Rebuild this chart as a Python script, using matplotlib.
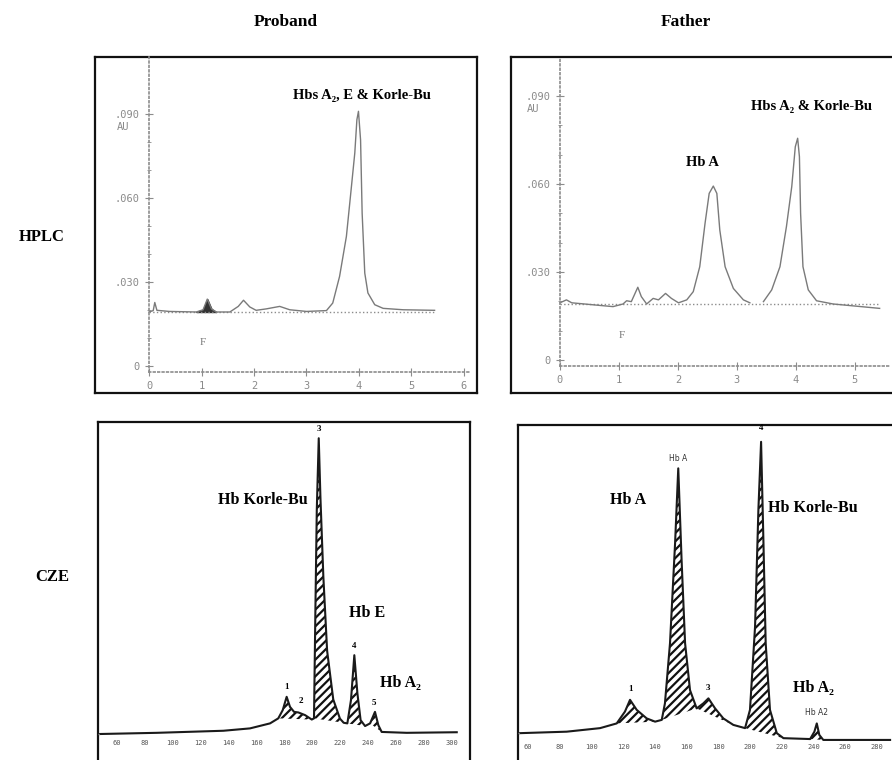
import numpy as np
import matplotlib
matplotlib.use("Agg")
import matplotlib.pyplot as plt

plt.rcParams['hatch.linewidth'] = 1.6
SERIF = ['Liberation Serif', 'DejaVu Serif']
MONO = ['DejaVu Sans Mono']
GRAY = '#8c8c8c'

# ---- HPLC, proband (time in min, absorbance in AU)
hp_p_time = [0.0, 0.08, 0.11, 0.15, 0.39, 0.90, 1.03, 1.11, 1.19, 1.28, 1.54, 1.70, 1.80, 1.92,
             2.04, 2.23, 2.49, 2.68, 3.00, 3.38, 3.50, 3.63, 3.76, 3.85, 3.92, 3.96, 3.99,
             4.03, 4.06, 4.11, 4.17, 4.30, 4.46, 4.84, 5.44]
hp_p_au = [0.0193, 0.0198, 0.0227, 0.0199, 0.0195, 0.0193, 0.0201, 0.0239, 0.0204, 0.0193,
           0.0193, 0.0213, 0.0235, 0.0211, 0.0199, 0.0204, 0.0213, 0.0201, 0.0195, 0.0198,
           0.0225, 0.0320, 0.0463, 0.0630, 0.0761, 0.0880, 0.0910, 0.0808, 0.0546, 0.0332,
           0.0261, 0.0219, 0.0206, 0.0201, 0.0199]
hp_p_base = 0.0193

# ---- HPLC, father
hp_f_time = [0.0, 0.11, 0.20, 0.68, 0.90, 1.07, 1.13, 1.21, 1.32, 1.38, 1.47, 1.58, 1.67, 1.79,
             1.89, 2.01, 2.15, 2.26, 2.37, 2.46, 2.53, 2.60, 2.66, 2.71, 2.80, 2.94, 3.11, 3.22,
             3.33, 3.45, 3.59, 3.73, 3.84, 3.93, 3.99, 4.03, 4.06, 4.08, 4.12, 4.21, 4.35, 4.63,
             5.42]
hp_f_au = [0.0195, 0.0205, 0.0195, 0.0186, 0.0182, 0.0191, 0.0202, 0.0199, 0.0248, 0.0216,
           0.0191, 0.0210, 0.0205, 0.0227, 0.0210, 0.0195, 0.0205, 0.0233, 0.0318, 0.0466,
           0.0568, 0.0593, 0.0568, 0.0443, 0.0318, 0.0244, 0.0205, 0.0195, np.nan, 0.0199,
           0.0239, 0.0318, 0.0455, 0.0591, 0.0727, 0.0756, 0.0693, 0.0500, 0.0318, 0.0239,
           0.0202, 0.0191, 0.0176]
hp_f_base = 0.0190

# ---- CZE, proband (zone position, relative absorbance)
cz_p_pos = [47.8, 88.5, 136.2, 155.3, 169.7, 175.6, 178.8, 181.6, 184.0, 186.9, 190.0, 194.8,
            199.6, 201.2, 202.2, 203.2, 204.6, 205.8, 207.9, 210.6, 215.0, 219.8, 222.5, 225.1,
            227.7, 230.1, 232.3, 234.6, 237.8, 241.4, 244.9, 247.3, 249.7, 267.6, 303.5]
cz_p_abs = [-0.2, 0.2, 0.9, 1.7, 3.4, 5.1, 7.9, 12.4, 9.0, 7.3, 7.1, 6.2, 4.7, 5.1, 41.8, 75.7,
            100.0, 80.0, 53.1, 28.0, 11.5, 5.0, 3.6, 3.4, 11.3, 26.5, 13.6, 4.5, 2.5, 3.4, 7.3,
            2.8, 0.5, 0.2, 0.4]
cz_p_hatch = [(175.6, 199.6), (201.2, 222.5), (225.1, 237.8), (241.4, 249.7)]
cz_p_ticks = [60, 80, 100, 120, 140, 160, 180, 200, 220, 240, 260, 280, 300]

# ---- CZE, father
cz_f_pos = [55.0, 84.4, 105.4, 115.9, 121.1, 124.3, 128.5, 134.8, 140.1, 144.3, 146.3, 149.5,
            152.7, 154.7, 156.8, 159.0, 162.1, 166.3, 170.5, 173.7, 177.9, 183.1, 189.4, 196.8,
            199.9, 203.1, 205.2, 206.9, 208.4, 209.8, 212.5, 216.8, 221.0, 237.8, 240.5, 242.0,
            243.6, 246.1, 288.2]
cz_f_abs = [2.3, 2.8, 4.0, 5.6, 9.6, 13.6, 10.2, 7.3, 6.2, 6.8, 12.4, 32.8, 66.7, 92.1, 61.0,
            32.8, 16.9, 10.7, 12.4, 14.1, 10.7, 7.3, 5.1, 4.0, 10.2, 38.4, 78.0, 101.1, 66.7,
            32.8, 10.2, 2.3, 0.6, 0.3, 2.8, 5.6, 1.7, 0.0, 0.0]
cz_f_hatch = [(115.9, 140.1), (144.3, 166.3), (166.3, 189.4), (196.8, 221.0), (237.8, 246.1)]
cz_f_ticks = [60, 80, 100, 120, 140, 160, 180, 200, 220, 240, 260, 280]

W, H = 892, 760
fig = plt.figure(figsize=(8.92, 7.6), dpi=100)


def rect(x0, y0, x1, y1):
    # pixel box -> figure fraction
    return [x0 / W, 1 - y1 / H, (x1 - x0) / W, (y1 - y0) / H]


def frame(r):
    b = fig.add_axes(r)
    b.set_xticks([])
    b.set_yticks([])
    for s in b.spines.values():
        s.set_linewidth(1.6)
        s.set_color('#111111')
    ax = fig.add_axes(r)
    ax.patch.set_alpha(0)
    return ax


def hplc_axes(ax, xlim, ylim, xmax_axis, xlabels):
    ax.set_xlim(*xlim)
    ax.set_ylim(*ylim)
    for s in ['top', 'right']:
        ax.spines[s].set_visible(False)
    ax.spines['left'].set_position(('data', 0))
    ax.spines['bottom'].set_position(('data', -0.002))
    for s in ['left', 'bottom']:
        ax.spines[s].set_linestyle(':')
        ax.spines[s].set_color(GRAY)
        ax.spines[s].set_linewidth(1.2)
    ax.spines['left'].set_bounds(-0.002, ylim[1])
    ax.spines['bottom'].set_bounds(0, xmax_axis)
    ax.set_xticks(range(len(xlabels)))
    ax.set_xticklabels(xlabels)
    ax.set_yticks([0, 0.03, 0.06, 0.09])
    ax.set_yticklabels(['0', '.030', '.060', '.090'])
    ax.set_yticks(np.arange(0.01, 0.1, 0.01), minor=True)
    ax.tick_params(which='both', direction='inout', color=GRAY, labelcolor='#8a8a8a',
                   labelsize=7.5)
    ax.tick_params(which='major', length=6)
    ax.tick_params(which='minor', length=3)
    for t in ax.get_xticklabels() + ax.get_yticklabels():
        t.set_family(MONO)


def cze_draw(ax, pos, ab, hatch, ticks, xlim, ylim, ty):
    ax.set_xlim(*xlim)
    ax.set_ylim(*ylim)
    ax.axis('off')
    pos = np.array(pos)
    ab = np.array(ab)
    for a, b in hatch:
        m = (pos >= a) & (pos <= b)
        xs, ys = pos[m], ab[m]
        base = np.interp(xs, [xs[0], xs[-1]], [ys[0], ys[-1]])
        ax.fill_between(xs, base, ys, facecolor='white', edgecolor='#111111',
                        hatch='////', linewidth=0)
    ax.plot(pos, ab, color='#1a1a1a', lw=1.5)
    ax.plot([xlim[0], pos[0]], [ab[0], ab[0]], ls=':', color=GRAY, lw=1)
    for t in ticks:
        ax.text(t, ty, str(t), ha='center', va='center', fontsize=5, color='#555555',
                family=MONO)


# ---------------- HPLC proband
ax1 = frame(rect(95, 57, 477, 393))
hplc_axes(ax1, (-1.029, 6.248), (-0.00964, 0.1104), 6.1, ['0', '1', '2', '3', '4', '5', '6'])
ax1.plot([0, 5.44], [hp_p_base, hp_p_base], ls=':', color=GRAY, lw=1.0)
ax1.plot(hp_p_time, hp_p_au, color='#7a7a7a', lw=1.0)
t = np.array(hp_p_time)
a = np.array(hp_p_au)
m = (t >= 0.90) & (t <= 1.28)
ax1.fill_between(t[m], hp_p_base, a[m], color='#333333')
ax1.text(-0.5, 0.0843, 'AU', fontsize=7.5, color='#8a8a8a', family=MONO, ha='center')
ax1.text(1.03, 0.0076, 'F', fontsize=8, color='#777777', family=SERIF, ha='center')
ax1.text(4.06, 0.0968, 'Hbs A₂, E & Korle-Bu', fontsize=10.5, fontweight='bold',
         family=SERIF, ha='center', va='center')

# ---------------- HPLC father
ax2 = frame(rect(511, 57, 905, 393))
hplc_axes(ax2, (-0.83, 5.85), (-0.01125, 0.1033), 5.6, ['0', '1', '2', '3', '4', '5'])
ax2.plot([0, 5.42], [hp_f_base, hp_f_base], ls=':', color=GRAY, lw=1.0)
ax2.plot(hp_f_time, hp_f_au, color='#7a7a7a', lw=1.0)
ax2.text(-0.45, 0.0845, 'AU', fontsize=7.5, color='#8a8a8a', family=MONO, ha='center')
ax2.text(1.05, 0.0074, 'F', fontsize=8, color='#777777', family=SERIF, ha='center')
ax2.text(2.42, 0.0675, 'Hb A', fontsize=10.5, fontweight='bold', family=SERIF,
         ha='center', va='center')
ax2.text(4.27, 0.0863, 'Hbs A₂ & Korle-Bu', fontsize=10.5, fontweight='bold',
         family=SERIF, ha='center', va='center')

# ---------------- CZE proband
ax3 = frame(rect(98, 422, 470, 765))
cze_draw(ax3, cz_p_pos, cz_p_abs, cz_p_hatch, cz_p_ticks, (46.4, 313.0), (-10.7, 105.5), -3.3)
bold = dict(fontsize=11.5, fontweight='bold', family=SERIF, ha='center', va='center')
small = dict(fontsize=6.5, family=SERIF, ha='center', va='center', fontweight='bold')
ax3.text(164.7, 79.1, 'Hb Korle-Bu', **bold)
ax3.text(239.2, 40.8, 'Hb E', **bold)
ax3.text(262.9, 17.1, 'Hb A₂', **bold)
for lab, x, y in [('1', 181.6, 15.8), ('2', 191.7, 11.1), ('3', 204.6, 103.0),
                  ('4', 230.1, 29.6), ('5', 244.5, 10.2)]:
    ax3.text(x, y, lab, **small)

# ---------------- CZE father
ax4 = frame(rect(518, 425, 905, 765))
cze_draw(ax4, cz_f_pos, cz_f_abs, cz_f_hatch, cz_f_ticks, (53.7, 297.6), (-8.5, 106.8), -2.4)
ax4.text(123.2, 81.4, 'Hb A', **bold)
ax4.text(239.8, 78.5, 'Hb Korle-Bu', **bold)
ax4.text(239.8, 17.5, 'Hb A₂', **bold)
for lab, x, y in [('1', 124.7, 17.2), ('3', 173.7, 17.7), ('4', 206.9, 105.7)]:
    ax4.text(x, y, lab, **small)
ax4.text(154.7, 95.5, 'Hb A', fontsize=5.5, color='#333333', ha='center', va='center')
ax4.text(242.0, 9.3, 'Hb A2', fontsize=5.5, color='#333333', ha='center', va='center')

# ---------------- row / column headers
fig.text(286 / W, 1 - 22 / H, 'Proband', fontsize=12.5, fontweight='bold', family=SERIF,
         ha='center', va='center')
fig.text(686 / W, 1 - 22 / H, 'Father', fontsize=12.5, fontweight='bold', family=SERIF,
         ha='center', va='center')
fig.text(42 / W, 1 - 237 / H, 'HPLC', fontsize=12, fontweight='bold', family=SERIF,
         ha='center', va='center')
fig.text(52 / W, 1 - 577 / H, 'CZE', fontsize=12, fontweight='bold', family=SERIF,
         ha='center', va='center')

fig.savefig('out.png', dpi=100)
